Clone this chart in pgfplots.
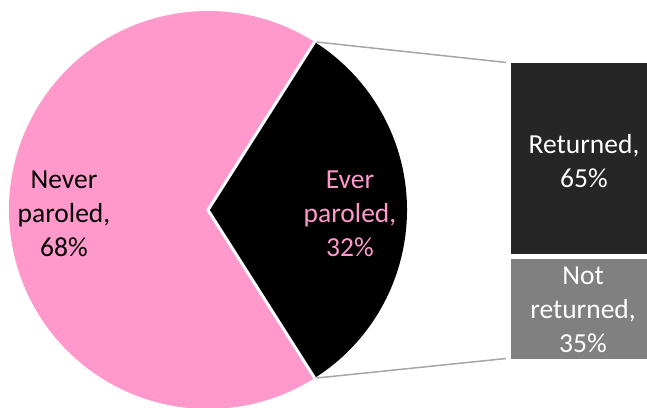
\documentclass[border=0pt]{standalone}
\usepackage{pgfplots}
\pgfplotsset{compat=1.18}
\usepackage{fontspec}
\setmainfont{Carlito}
\definecolor{piepink}{RGB}{255,153,204}
\definecolor{bardark}{RGB}{38,38,38}
\definecolor{bargray}{RGB}{128,128,128}
\definecolor{linkgray}{RGB}{166,166,166}

% shares (percent)
\def\never{68}
\def\ever{32}
\def\returned{65}
\def\notreturned{35}

\begin{document}
\begin{tikzpicture}[lab/.style={font=\fontsize{27.5}{34}\selectfont, align=center}]
\pgfmathsetmacro\half{\ever*3.6/2}
\pgfmathsetmacro\R{199}
\pgfmathsetmacro\tx{208+\R*cos(\half)}
\pgfmathsetmacro\ty{197+\R*sin(\half)}
\pgfmathsetmacro\by{197-\R*sin(\half)}
% pie, axis units = pixels
\begin{axis}[name=pie, hide axis, scale only axis,
    width=647pt, height=407pt,
    xmin=0, xmax=647, ymin=0, ymax=407]
  \fill[piepink] (208,197) -- (\tx,\ty)
      arc[start angle=\half, end angle=360-\half, radius=\R] -- cycle;
  \fill[black] (208,197) -- (\tx,\by)
      arc[start angle=-\half, end angle=\half, radius=\R] -- cycle;
  \draw[white, line width=3pt] (\tx,\by) -- (208,197) -- (\tx,\ty);
  \draw[linkgray, line width=1.5pt] (\tx+2,\ty) -- (511,344);
  \draw[linkgray, line width=1.5pt] (\tx+2,\by) -- (511,49);
  \node[lab, text=black] at (64,193) {Never\\paroled,\\\never\%};
  \node[lab, text=piepink] at (350,193) {Ever\\paroled,\\\ever\%};
\end{axis}
% bar of the ever-paroled share
\begin{axis}[hide axis, scale only axis,
    width=647pt, height=407pt,
    xmin=0, xmax=647, ymin=-15.12, ymax=120.1,
    ybar stacked, bar width=150]
  \addplot[fill=bargray, draw=white, line width=5pt] coordinates {(583.5,\notreturned)};
  \addplot[fill=bardark, draw=white, line width=5pt] coordinates {(583.5,\returned)};
\end{axis}
% bar labels
\begin{axis}[hide axis, scale only axis,
    width=647pt, height=407pt,
    xmin=0, xmax=647, ymin=0, ymax=407]
  \node[lab, text=white] at (584,246) {Returned,\\\returned\%};
  \node[lab, text=white] at (583,97) {Not\\returned,\\\notreturned\%};
\end{axis}
\pgfresetboundingbox
\path (pie.south west) rectangle (pie.north east);
\end{tikzpicture}
\end{document}
